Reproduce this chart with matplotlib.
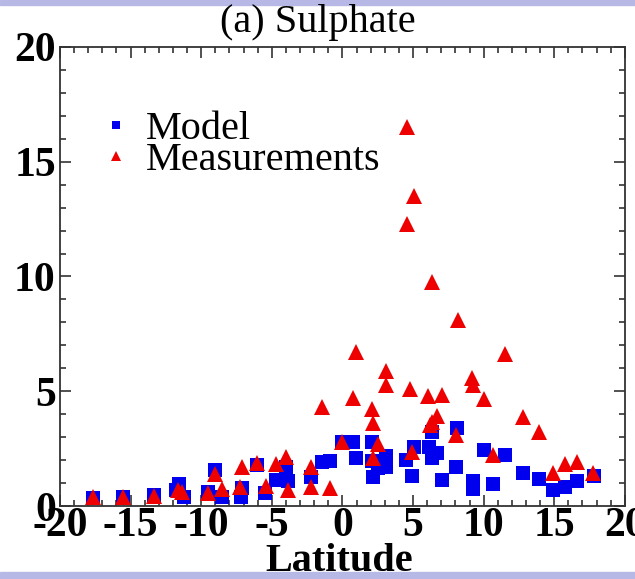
import matplotlib
matplotlib.use('Agg')
import matplotlib.pyplot as plt
from matplotlib.patches import Rectangle
from matplotlib.ticker import MultipleLocator

plt.rcParams['font.family'] = ['Liberation Serif', 'DejaVu Serif']
plt.rcParams['axes.unicode_minus'] = False

# Model (blue squares)
model_lat = [-17.64, -15.52, -13.32, -11.54, -11.79, -11.22, -9.50, -9.01, -8.53, -7.21,
             -7.14, -6.07, -5.49, -4.71, -3.84, -4.00, -2.23, -1.42, -0.91, -0.06,
             0.74, 0.96, 2.07, 2.07, 2.18, 2.49, 3.10, 3.10, 4.50, 4.90,
             5.04, 6.12, 6.32, 6.71, 6.32, 8.09, 8.04, 7.07, 9.22, 9.26,
             10.02, 10.68, 11.50, 12.76, 13.93, 14.92, 15.75, 16.58, 17.81]
model_val = [0.36, 0.41, 0.48, 0.95, 0.68, 0.38, 0.62, 1.57, 0.39, 0.39,
             0.79, 1.79, 0.59, 1.15, 1.10, 1.71, 1.28, 1.90, 1.97, 2.80,
             2.80, 2.08, 2.80, 1.97, 1.26, 1.66, 2.19, 1.68, 2.02, 1.29,
             2.57, 2.58, 2.08, 2.33, 3.24, 3.39, 1.68, 1.15, 1.10, 0.75,
             2.43, 0.95, 2.22, 1.45, 1.17, 0.68, 0.81, 1.10, 1.33]

# Measurements (red triangles)
meas_lat = [-17.64, -15.52, -13.32, -11.62, -11.38, -9.50, -9.00, -8.51, -7.26, -7.14,
            -6.07, -5.44, -4.73, -4.00, -3.84, -2.23, -2.23, -1.45, -0.88, -0.06,
            0.73, 4.55, 5.06, 4.55, 8.16, 6.32, 0.98, 11.50, 3.10, 3.10,
            9.20, 9.24, 4.80, 6.07, 7.07, 10.02, 2.07, 2.18, 2.49, 2.18,
            4.90, 6.19, 6.32, 6.67, 8.04, 10.68, 12.76, 13.93, 14.92, 15.75,
            16.58, 17.76]
meas_val = [0.41, 0.41, 0.44, 0.70, 0.62, 0.55, 1.38, 0.73, 0.84, 1.71,
            1.86, 0.87, 1.83, 2.15, 0.70, 1.69, 0.84, 4.30, 0.77, 2.80,
            4.72, 16.53, 13.51, 12.29, 8.10, 9.77, 6.72, 6.61, 5.90, 5.27,
            5.56, 5.27, 5.08, 4.79, 4.85, 4.65, 4.21, 3.63, 2.70, 2.08,
            2.37, 3.53, 3.67, 3.92, 3.09, 2.22, 3.89, 3.21, 1.42, 1.82,
            1.93, 1.42]

fig = plt.figure(figsize=(6.35, 5.79), dpi=100)
band = (0.72, 0.72, 0.9)
fig.patches.append(Rectangle((0, 0.991), 1, 0.009, transform=fig.transFigure,
                             color=band, zorder=0))
fig.patches.append(Rectangle((0, 0), 1, 0.012, transform=fig.transFigure,
                             color=band, zorder=0))

ax = fig.add_axes([0.0945, 0.126, 0.8895, 0.793])

ax.plot(model_lat, model_val, 's', color='#0000ee', markersize=10,
        markeredgewidth=0, label='Model')
ax.plot(meas_lat, meas_val, '^', color='#ee0000', markersize=11,
        markeredgewidth=0, label='Measurements')

ax.set_xlim(-20, 20)
ax.set_ylim(0, 20)
ax.xaxis.set_major_locator(MultipleLocator(5))
ax.xaxis.set_minor_locator(MultipleLocator(1))
ax.yaxis.set_major_locator(MultipleLocator(5))
ax.yaxis.set_minor_locator(MultipleLocator(1))
ax.tick_params(which='both', direction='in', top=True, right=True,
               color='#333333', width=1.2)
ax.tick_params(which='major', length=8, labelsize=30, pad=1)
ax.tick_params(axis='y', which='major', pad=3)
ax.tick_params(which='minor', length=4)
for lab in ax.get_xticklabels() + ax.get_yticklabels():
    lab.set_fontweight('bold')
for s in ax.spines.values():
    s.set_linewidth(1.3)
    s.set_color('#333333')

fig.text(0.5, 0.962, '(a) Sulphate', fontsize=29, ha='center', va='center')
fig.text(0.534, 0.014, 'Latitude', fontsize=29, fontweight='bold',
         ha='center', va='baseline')

ax.legend(loc='upper left', bbox_to_anchor=(0.045, 0.905), frameon=False,
          fontsize=29, markerscale=0.6, handlelength=0.5, handletextpad=0.5,
          labelspacing=-0.15, borderpad=0)

fig.savefig('out.png', dpi=100)
